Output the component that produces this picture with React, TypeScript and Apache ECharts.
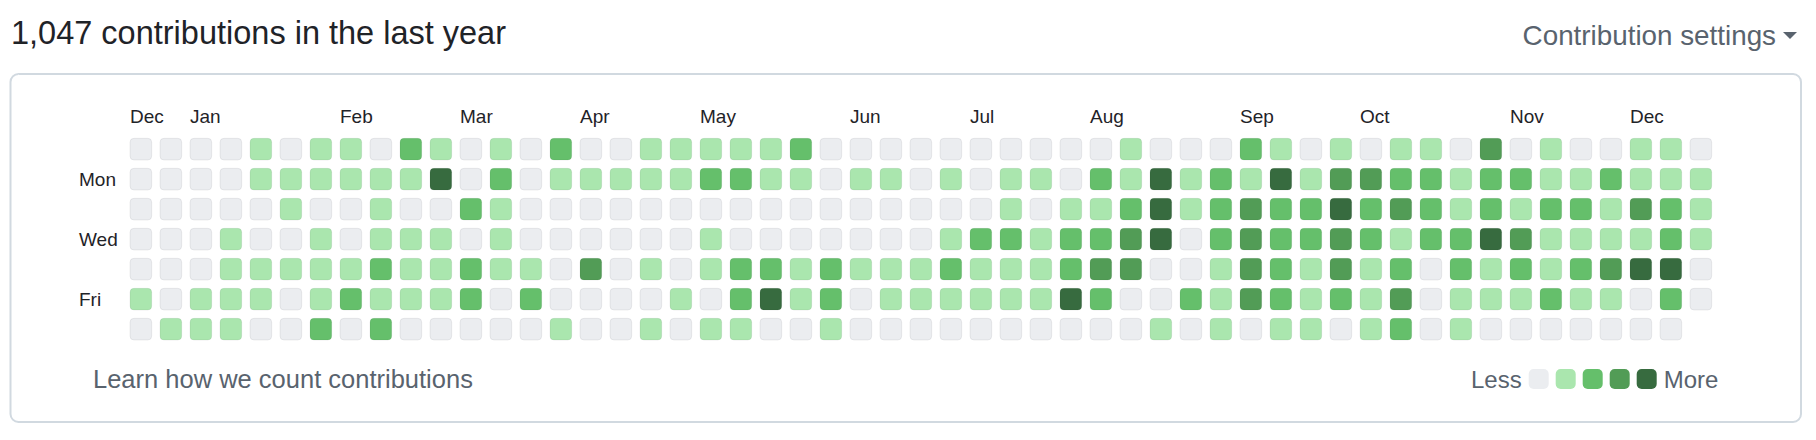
import React, { useEffect, useRef } from "react";
import * as echarts from "echarts";

// Contribution levels (0 = none … 4 = most), one array per weekday, one value per week column
const sun = [0,0,0,0,1,0,1,1,0,2,1,0, 1,0,2,0,0,1,1,1,1,1,2,0,0,0, 0,0,0,0,0,0,0,1,0,0,0,2,1,0,1, 0,1,1,0,3,0,1,0,0,1,1,0];
const mon = [0,0,0,0,1,1,1,1,1,1,4,0, 2,0,1,1,1,1,1,2,2,1,1,0,1,1, 0,1,0,1,1,0,2,1,4,1,2,1,4,1,3, 3,2,2,1,2,2,1,1,2,1,1,1];
const tue = [0,0,0,0,0,1,0,0,1,0,0,2, 1,0,0,0,0,0,0,0,0,0,0,0,0,0, 0,0,0,1,0,1,1,2,4,1,2,3,2,2,4, 2,3,2,1,2,1,2,2,1,3,2,1];
const wed = [0,0,0,1,0,0,1,0,1,1,1,0, 1,0,0,0,0,0,0,1,0,0,0,0,0,0, 0,1,2,2,1,2,2,3,4,0,2,3,2,2,3, 2,1,2,2,4,3,1,1,1,1,2,1];
const thu = [0,0,0,1,1,1,1,1,2,1,1,2, 1,1,0,3,0,1,0,1,2,2,1,2,1,1, 1,2,1,1,1,2,3,3,0,0,1,3,2,1,3, 1,2,0,2,1,2,1,2,3,4,4,0];
const fri = [1,0,1,1,1,0,1,2,1,1,1,2, 0,2,0,0,0,0,1,0,2,4,1,2,0,1, 1,1,1,1,1,4,2,0,0,2,1,3,2,1,2, 1,3,0,1,1,1,2,1,1,0,2,0];
const sat = [0,1,1,1,0,0,2,0,2,0,0,0, 0,0,1,0,0,1,0,1,1,0,0,1,0,0, 0,0,0,0,0,0,0,0,1,0,1,0,1,1,0, 1,2,0,1,0,0,0,0,0,0,0];
const weekdays = [sun, mon, tue, wed, thu, fri, sat];

const monthNames = ["Dec", "Jan", "Feb", "Mar", "Apr", "May", "Jun", "Jul", "Aug", "Sep", "Oct", "Nov", "Dec"];
const monthCols = [0, 2, 7, 11, 15, 19, 24, 28, 32, 37, 41, 46, 50];
const dayNames = ["Mon", "Wed", "Fri"];
const dayRows = [1, 3, 5];
const levels = [0, 1, 2, 3, 4];
const levelColors = ["#ebedf0", "#aae6ae", "#65bf6b", "#529c56", "#376b3f"];

const titleText = "1,047 contributions in the last year";
const FONT = "'Liberation Sans', Arial, Helvetica, sans-serif";
const CELL = 21.7 / 30;

export default function App() {
  const ref = useRef<HTMLDivElement>(null);
  useEffect(() => {
    if (!ref.current) return;
    const chart = echarts.init(ref.current, null, { renderer: "svg" });
    const data: number[][] = [];
    weekdays.forEach((arr, r) => arr.forEach((lv, c) => data.push([c, r, lv])));

    chart.setOption({
      animation: false,
      backgroundColor: "#ffffff",
      grid: { left: 130, top: 138.3, width: 1590, height: 210 },
      xAxis: {
        type: "value",
        min: 0,
        max: 53,
        position: "top",
        axisLine: { show: false },
        axisTick: { show: false },
        splitLine: { show: false },
        axisLabel: {
          customValues: monthCols,
          formatter: (v: number) => monthNames[monthCols.indexOf(Math.round(v))] ?? "",
          align: "left",
          verticalAlign: "middle",
          margin: 22,
          fontSize: 19,
          color: "#1f2328",
          fontFamily: FONT,
        },
      },
      yAxis: {
        type: "value",
        min: 0,
        max: 7,
        inverse: true,
        axisLine: { show: false },
        axisTick: { show: false },
        splitLine: { show: false },
        axisLabel: {
          customValues: dayRows.map((r) => r + CELL / 2),
          formatter: (v: number) => dayNames[dayRows.indexOf(Math.round(v - CELL / 2))] ?? "",
          align: "left",
          verticalAlign: "middle",
          margin: 51,
          fontSize: 19,
          color: "#1f2328",
          fontFamily: FONT,
        },
      },
      visualMap: {
        type: "piecewise",
        dimension: 2,
        seriesIndex: 0,
        orient: "horizontal",
        left: 1471,
        top: 367,
        padding: 0,
        itemWidth: 20,
        itemHeight: 20,
        itemGap: 7,
        textGap: 7,
        itemSymbol: "roundRect",
        selectedMode: false,
        hoverLink: false,
        text: ["More", "Less"],
        textStyle: { fontSize: 24, color: "#59636e", fontFamily: FONT },
        pieces: levels.map((l) => ({ value: l, color: levelColors[l] })),
      },
      series: [
        {
          type: "custom",
          coordinateSystem: "cartesian2d",
          data,
          encode: { x: 0, y: 1 },
          renderItem: (_params: any, api: any) => {
            const p = api.coord([api.value(0), api.value(1)]);
            const s = api.size([CELL, CELL]);
            return {
              type: "rect",
              shape: { x: p[0], y: p[1], width: s[0], height: s[1], r: 4 },
              style: { fill: api.visual("color"), stroke: "rgba(27,31,36,0.07)", lineWidth: 1 },
            };
          },
        },
      ],
      graphic: [
        {
          type: "rect",
          z: -1,
          shape: { x: 10.5, y: 74, width: 1790.5, height: 348, r: 8 },
          style: { fill: "none", stroke: "#d1d9e0", lineWidth: 2 },
        },
        {
          type: "text",
          x: 11,
          y: 33,
          style: { text: titleText, fontSize: 32.5, fill: "#1f2328", fontFamily: FONT, verticalAlign: "middle" },
        },
        {
          type: "text",
          x: 1776,
          y: 35,
          style: {
            text: "Contribution settings",
            fontSize: 27.8,
            fill: "#59636e",
            fontFamily: FONT,
            align: "right",
            verticalAlign: "middle",
          },
        },
        {
          type: "polygon",
          shape: { points: [[1783, 32], [1797, 32], [1790, 39]] },
          style: { fill: "#59636e" },
        },
        {
          type: "text",
          x: 93,
          y: 379,
          style: {
            text: "Learn how we count contributions",
            fontSize: 25.5,
            fill: "#59636e",
            fontFamily: FONT,
            verticalAlign: "middle",
          },
        },
      ],
    });
    return () => chart.dispose();
  }, []);
  return <div ref={ref} style={{ position: "fixed", left: 0, top: 0, width: 1816, height: 440 }} />;
}
